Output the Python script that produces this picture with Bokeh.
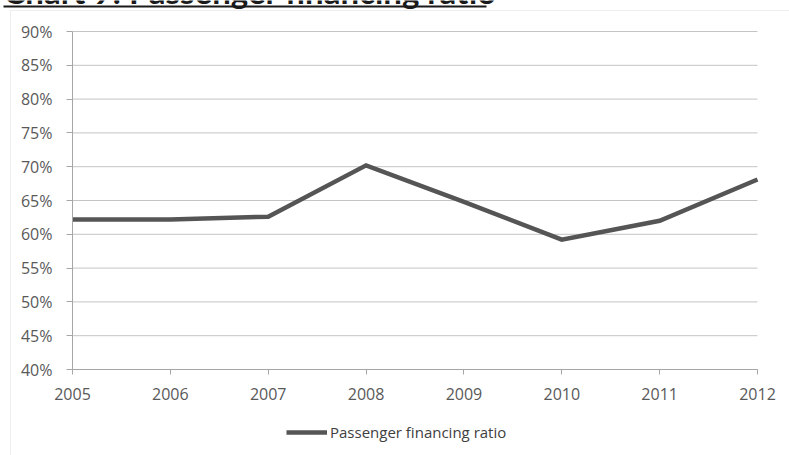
from bokeh.plotting import figure
from bokeh.models import (Legend, LegendItem, NumeralTickFormatter, FixedTicker, Range1d,
                          ColumnDataSource, Label, BoxAnnotation)
from bokeh.embed import file_html
from bokeh.resources import INLINE

years = [2005, 2006, 2007, 2008, 2009, 2010, 2011, 2012]
ratio = [0.622, 0.622, 0.626, 0.702, 0.648, 0.592, 0.620, 0.681]
y_ticks = [0.40, 0.45, 0.50, 0.55, 0.60, 0.65, 0.70, 0.75, 0.80, 0.85, 0.90]
title_text = "Chart 9: Passenger financing ratio"
series_name = "Passenger financing ratio"

W, H = 789, 455
# plotting area in pixels (left, right, top, bottom) inside the canvas
PL, PR, PT, PB = 72, 757, 31, 369
x0, x1 = years[0], years[-1]
y0, y1 = y_ticks[0], y_ticks[-1]
sx = (PR - PL) / (x1 - x0)
sy = (PB - PT) / (y1 - y0)
x_range = Range1d(x0 - PL / sx, x1 + (W - PR) / sx)
y_range = Range1d(y0 - (H - PB) / sy, y1 + PT / sy)

p = figure(width=W, height=H, output_backend="svg", toolbar_location=None,
           x_range=x_range, y_range=y_range,
           min_border=0, min_border_left=0, min_border_right=0,
           min_border_top=0, min_border_bottom=0)
p.outline_line_color = None
p.xgrid.visible = False
p.ygrid.visible = False

# horizontal gridlines at the y ticks, spanning the category extent
gsrc = ColumnDataSource(dict(x0=[x0] * len(y_ticks), x1=[x1] * len(y_ticks),
                             y=y_ticks))
p.segment(x0="x0", y0="y", x1="x1", y1="y", source=gsrc,
          line_color="#c4c4c4", line_width=1)

src = ColumnDataSource(dict(x=years, y=ratio))
r = p.line("x", "y", source=src, line_color="#555555", line_width=4.5, line_join="miter")

# axes drawn at fixed locations inside the full-canvas frame
p.xaxis.fixed_location = y0
p.yaxis.fixed_location = x0
p.xaxis.bounds = (x0, x1)
p.yaxis.bounds = (y0, y1)
p.xaxis.ticker = FixedTicker(ticks=years)
p.yaxis.ticker = FixedTicker(ticks=y_ticks)
p.yaxis.formatter = NumeralTickFormatter(format="0%")
for ax in (p.xaxis[0], p.yaxis[0]):
    ax.axis_line_color = "#a6a6a6"
    ax.major_tick_line_color = "#a6a6a6"
    ax.minor_tick_line_color = None
    ax.major_tick_in = 0
    ax.major_label_text_font = "Open Sans"
    ax.major_label_text_font_size = "16px"
    ax.major_label_text_color = "#595959"
p.yaxis.major_tick_out = 6
p.yaxis.major_label_standoff = 14
p.xaxis.major_tick_out = 5
p.xaxis.major_label_standoff = 13

# outer chart border (right and bottom edges lie outside the picture)
p.add_layout(BoxAnnotation(left=10, right=W + 20, top=10, bottom=H + 20,
                           left_units="canvas", right_units="canvas",
                           top_units="canvas", bottom_units="canvas",
                           fill_alpha=0, line_color="#c8c8c8", line_width=1))

# title (cut off at the top edge in the reference) + underline
p.add_layout(Label(x=3, y=-10, x_units="canvas", y_units="canvas", text=title_text,
                   text_font="Lato", text_font_style="bold", text_font_size="33px",
                   text_color="#1a1a1a", text_baseline="alphabetic"))
p.add_layout(BoxAnnotation(left=3, right=486, top=5, bottom=7,
                           left_units="canvas", right_units="canvas",
                           top_units="canvas", bottom_units="canvas",
                           fill_color="#1a1a1a", fill_alpha=1, line_color=None))

legend = Legend(items=[LegendItem(label=series_name, renderers=[r])],
                location=(286, 13), orientation="horizontal",
                glyph_width=41, glyph_height=20, label_standoff=3, padding=0, margin=0,
                spacing=0, border_line_color=None, background_fill_alpha=0,
                label_text_font="Open Sans", label_text_font_size="15px",
                label_text_color="#404040")
p.add_layout(legend, "center")

open("out.html", "w").write(file_html(p, INLINE))
